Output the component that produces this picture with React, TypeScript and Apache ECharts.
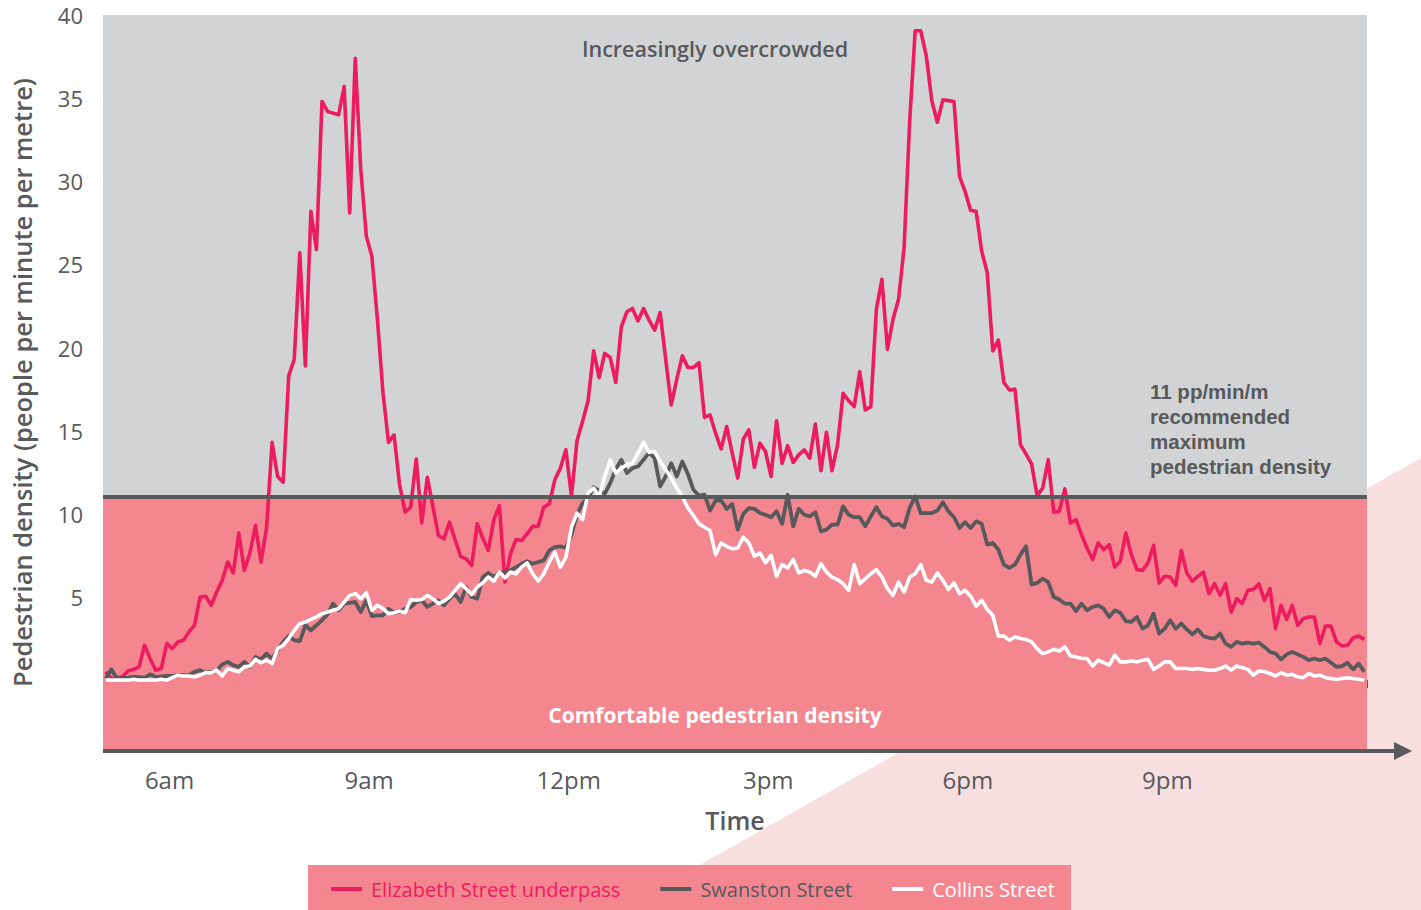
import React, { useEffect, useRef } from 'react';
import * as echarts from 'echarts';

// ---- data: 5-minute readings from 5:00 to 23:55 (one row per hour) ----
const elizabeth: number[] = [
  0.5, 0.1, 0.15, 0.2, 0.55, 0.65, 0.8, 2.1, 1.3, 0.6, 0.7, 2.2,
  1.9, 2.3, 2.4, 2.9, 3.3, 5.0, 5.05, 4.5, 5.3, 6.0, 7.1, 6.45,
  8.85, 6.6, 7.65, 9.3, 7.1, 9.15, 14.3, 12.25, 11.9, 18.3, 19.3, 25.7,
  18.9, 28.2, 25.9, 34.8, 34.2, 34.1, 34.0, 35.7, 28.1, 37.4, 30.7, 26.7,
  25.5, 21.7, 17.3, 14.3, 14.75, 11.75, 10.1, 10.4, 13.3, 9.45, 12.2, 10.45,
  8.7, 8.5, 9.5, 8.45, 7.45, 7.3, 6.9, 9.4, 8.55, 7.8, 9.65, 10.5,
  5.9, 7.6, 8.45, 8.4, 8.8, 9.25, 9.25, 10.4, 10.6, 12.05, 12.75, 13.85,
  11.05, 14.4, 15.55, 16.8, 19.8, 18.2, 19.65, 19.4, 17.9, 21.25, 22.15, 22.35,
  21.6, 22.35, 21.65, 21.05, 22.1, 19.3, 16.55, 18.1, 19.5, 18.8, 18.8, 19.1,
  15.8, 15.95, 14.85, 13.9, 15.25, 13.65, 12.15, 14.5, 15.05, 12.8, 14.25, 13.75,
  12.25, 15.6, 13.05, 14.1, 13.1, 13.55, 13.85, 13.35, 15.4, 12.6, 14.9, 12.6,
  14.15, 17.25, 16.8, 16.45, 18.55, 16.25, 16.45, 22.3, 24.1, 19.9, 21.7, 22.9,
  26.0, 33.55, 39.05, 39.05, 37.55, 34.85, 33.55, 34.9, 34.85, 34.8, 30.3, 29.4,
  28.25, 28.2, 25.8, 24.5, 19.8, 20.45, 17.9, 17.45, 17.5, 14.15, 13.6, 13.0,
  11.1, 11.55, 13.25, 10.1, 10.15, 11.5, 9.45, 9.65, 8.75, 7.95, 7.25, 8.25,
  7.85, 8.15, 6.8, 7.15, 8.85, 7.55, 6.65, 6.6, 7.05, 8.1, 5.85, 6.25,
  6.2, 5.7, 7.8, 6.45, 5.95, 6.25, 6.5, 5.2, 5.8, 5.1, 5.8, 4.1,
  4.9, 4.6, 5.4, 5.45, 5.8, 4.8, 5.5, 3.1, 4.5, 3.65, 4.5, 3.3,
  3.7, 3.8, 3.8, 2.2, 3.25, 3.25, 2.3, 2.05, 2.1, 2.55, 2.65, 2.45,
];

const swanston: number[] = [
  0.1, 0.65, 0.1, 0.12, 0.15, 0.2, 0.18, 0.15, 0.35, 0.2, 0.22, 0.25,
  0.25, 0.3, 0.3, 0.3, 0.5, 0.6, 0.45, 0.5, 0.55, 0.95, 1.1, 0.9,
  0.8, 1.1, 0.8, 1.4, 1.25, 1.6, 1.3, 1.8, 2.3, 2.65, 2.4, 2.35,
  3.3, 3.0, 3.3, 3.6, 3.95, 4.6, 4.2, 4.6, 4.65, 4.7, 4.1, 4.8,
  3.85, 3.9, 3.9, 4.3, 4.05, 4.1, 4.3, 4.4, 4.7, 4.8, 4.4, 4.6,
  4.8, 4.5, 4.9, 5.2, 4.7, 5.6, 5.0, 4.9, 6.2, 6.45, 6.2, 6.45,
  6.5, 6.6, 6.8, 7.0, 7.15, 7.0, 7.1, 7.2, 7.8, 8.0, 8.05, 7.95,
  8.75, 9.95, 10.65, 10.95, 11.6, 11.4, 11.2, 11.85, 12.7, 13.25, 12.45, 12.75,
  12.85, 13.25, 13.7, 13.35, 11.65, 12.25, 13.05, 12.25, 13.15, 12.4, 11.45, 11.1,
  11.15, 10.2, 10.8, 10.8, 10.3, 10.6, 9.05, 10.0, 10.35, 10.3, 10.05, 9.95,
  9.8, 10.15, 9.4, 11.15, 9.25, 10.3, 9.95, 9.85, 10.1, 8.95, 9.05, 9.35,
  9.35, 10.45, 9.95, 9.8, 9.8, 9.25, 9.85, 10.4, 9.85, 9.7, 9.3, 9.4,
  9.2, 10.35, 11.05, 10.05, 10.05, 10.05, 10.2, 10.7, 10.15, 9.8, 9.15, 9.5,
  9.15, 9.55, 9.4, 8.15, 8.25, 7.85, 6.95, 6.75, 6.95, 7.55, 8.05, 5.75,
  5.85, 6.1, 5.9, 5.0, 4.85, 4.6, 4.6, 4.15, 4.6, 4.2, 4.4, 4.5,
  4.3, 3.8, 4.2, 4.05, 3.55, 3.5, 3.8, 3.1, 3.3, 4.0, 2.8, 3.1,
  3.6, 3.1, 3.4, 3.05, 2.75, 3.05, 2.65, 2.55, 2.5, 2.8, 2.2, 2.0,
  2.3, 2.2, 2.25, 2.2, 2.25, 2.0, 1.7, 1.6, 1.25, 1.55, 1.7, 1.55,
  1.4, 1.2, 1.3, 1.2, 1.3, 1.05, 0.8, 0.85, 1.05, 0.65, 1.0, 0.5,
];

const collins: number[] = [
  0, 0, 0, 0, 0, 0.05, 0, 0, 0, 0, 0.05, 0,
  0.15, 0.3, 0.25, 0.25, 0.2, 0.3, 0.45, 0.45, 0.6, 0.25, 0.7, 0.6,
  0.5, 0.8, 0.85, 1.25, 1.05, 1.2, 1.0, 1.9, 2.1, 2.5, 3.0, 3.4,
  3.5, 3.65, 3.8, 4.0, 4.1, 4.2, 4.3, 4.7, 5.1, 5.2, 4.9, 5.25,
  4.2, 4.5, 4.3, 4.0, 4.05, 4.15, 4.05, 4.85, 4.8, 4.85, 5.1, 4.9,
  4.6, 4.75, 5.0, 5.4, 5.8, 5.5, 5.15, 5.6, 5.85, 6.2, 5.95, 6.5,
  6.15, 6.5, 6.4, 6.8, 7.05, 6.4, 5.95, 6.4, 7.1, 7.7, 6.8, 7.4,
  9.2, 10.05, 9.65, 11.25, 11.55, 11.05, 12.25, 13.25, 12.45, 12.75, 12.95, 13.05,
  13.65, 14.3, 13.7, 13.75, 13.15, 12.65, 12.15, 11.55, 11.05, 10.35, 9.9, 9.4,
  9.2, 9.0, 7.55, 8.25, 8.05, 7.9, 7.95, 8.6, 8.25, 7.45, 7.65, 7.05,
  7.5, 6.25, 6.95, 6.75, 7.25, 6.45, 6.6, 6.5, 6.25, 7.0, 6.5, 6.2,
  6.05, 5.8, 5.4, 6.95, 5.8, 6.1, 6.4, 6.65, 6.2, 5.5, 5.1, 5.9,
  5.3, 6.2, 6.4, 6.95, 6.0, 5.9, 6.45, 6.0, 5.45, 5.85, 5.2, 5.4,
  5.05, 4.45, 4.8, 4.25, 3.9, 2.65, 2.65, 2.4, 2.6, 2.5, 2.45, 2.3,
  1.9, 1.6, 1.7, 1.85, 1.75, 2.0, 1.45, 1.4, 1.3, 1.3, 0.85, 1.2,
  1.05, 0.9, 1.5, 1.1, 1.1, 1.15, 1.1, 1.2, 1.25, 0.65, 0.85, 1.1,
  1.1, 0.7, 0.7, 0.7, 0.65, 0.7, 0.65, 0.6, 0.6, 0.7, 0.85, 0.6,
  0.85, 0.75, 0.65, 0.3, 0.55, 0.5, 0.4, 0.25, 0.45, 0.3, 0.35, 0.2,
  0.15, 0.4, 0.25, 0.3, 0.15, 0.1, 0.05, 0.1, 0.15, 0.1, 0.05, 0.0,
];

const seriesNames = ['Elizabeth Street underpass', 'Swanston Street', 'Collins Street'];
const xTickValues = [6, 9, 12, 15, 18, 21];
const xTickLabels = ['6am', '9am', '12pm', '3pm', '6pm', '9pm'];
const yTickValues = [5, 10, 15, 20, 25, 30, 35, 40];
const thresholdNote = ['11 pp/min/m', 'recommended', 'maximum', 'pedestrian density'];
const threshold = 11;
const startHour = 5;
const endHour = 24;
const yMin = -4.2;
const yMax = 40;

// ---- styling ----
const RED = '#ec1c5f';
const DARK = '#58595b';
const WHITE = '#ffffff';
const PINK = '#f4868f';
const GREYBG = '#d1d3d4';
const PALE = '#f7dfe0';
const FONT = '"Open Sans", "Noto Sans", sans-serif';
const NOTE_FONT = '"Liberation Sans", Arial, sans-serif';

const toPairs = (vals: number[]) => vals.map((v, i) => [startHour + (i + 0.5) / 12, v]);

export default function App() {
  const ref = useRef<HTMLDivElement>(null);

  useEffect(() => {
    const chart = echarts.init(ref.current!, null, { renderer: 'svg' });
    const lineSeries = (name: string, vals: number[], color: string, width: number) => ({
      type: 'line',
      name,
      data: toPairs(vals),
      showSymbol: false,
      symbol: 'none',
      z: 3,
      lineStyle: { color, width, join: 'round' },
      itemStyle: { color },
      emphasis: { disabled: true },
    });

    const noteTexts = thresholdNote.map((line, k) => ({
      type: 'text',
      z: 50,
      silent: true,
      x: 1150,
      y: 391 + k * 25,
      style: {
        text: line,
        fill: DARK,
        font: `700 20.5px ${NOTE_FONT}`,
        align: 'left',
        verticalAlign: 'middle',
      },
    }));

    const option: any = {
      animation: false,
      backgroundColor: 'transparent',
      grid: { left: 103, right: 54, top: 15, bottom: 160, containLabel: false },
      xAxis: {
        type: 'value',
        min: startHour,
        max: endHour,
        interval: 1,
        axisLine: { show: false },
        axisTick: { show: true, length: 8, lineStyle: { color: DARK, width: 1 } },
        axisLabel: {
          customValues: xTickValues,
          formatter: (v: number) => xTickLabels[xTickValues.indexOf(v)] ?? '',
          color: DARK,
          fontSize: 24,
          fontFamily: FONT,
          margin: 17,
        },
        splitLine: { show: false },
        name: 'Time',
        nameLocation: 'middle',
        nameGap: 57,
        nameTextStyle: { color: DARK, fontSize: 25, fontWeight: 600, fontFamily: FONT },
      },
      yAxis: {
        type: 'value',
        min: yMin,
        max: yMax,
        axisLine: { show: false },
        axisTick: { show: false },
        splitLine: { show: false },
        axisLabel: {
          customValues: yTickValues,
          color: DARK,
          fontSize: 22,
          fontFamily: FONT,
          margin: 20,
        },
        name: 'Pedestrian density (people per minute per metre)',
        nameLocation: 'middle',
        nameGap: 68,
        nameTextStyle: { color: DARK, fontSize: 25.5, fontWeight: 600, fontFamily: FONT },
      },
      legend: {
        left: 326,
        top: 874,
        icon: 'rect',
        itemWidth: 31,
        itemHeight: 4,
        itemGap: 40,
        selectedMode: false,
        textStyle: { fontSize: 20, fontFamily: FONT, padding: [0, 0, 0, 4] },
        data: [
          { name: seriesNames[0], textStyle: { color: RED } },
          { name: seriesNames[1], textStyle: { color: DARK } },
          { name: seriesNames[2], textStyle: { color: WHITE } },
        ],
      },
      graphic: [
        {
          type: 'polygon',
          z: 0,
          silent: true,
          shape: { points: [[1421, 458], [1421, 910], [620, 910]] },
          style: { fill: PALE },
        },
        {
          type: 'rect',
          z: 1,
          silent: true,
          shape: { x: 308, y: 865, width: 763, height: 45 },
          style: { fill: PINK },
        },
        {
          type: 'line',
          z: 50,
          silent: true,
          shape: { x1: 103, y1: 751, x2: 1398, y2: 751 },
          style: { stroke: DARK, lineWidth: 4 },
        },
        {
          type: 'polygon',
          z: 50,
          silent: true,
          shape: { points: [[1394, 742], [1412, 751], [1394, 760]] },
          style: { fill: DARK },
        },
        {
          type: 'text',
          z: 50,
          silent: true,
          x: 715,
          y: 48,
          style: {
            text: 'Increasingly overcrowded',
            fill: DARK,
            font: `600 21.5px ${FONT}`,
            align: 'center',
            verticalAlign: 'middle',
          },
        },
        {
          type: 'text',
          z: 50,
          silent: true,
          x: 715,
          y: 715,
          style: {
            text: 'Comfortable pedestrian density',
            fill: WHITE,
            font: `700 21px ${FONT}`,
            align: 'center',
            verticalAlign: 'middle',
          },
        },
        ...noteTexts,
      ],
      series: [
        {
          type: 'line',
          name: 'zones',
          data: [],
          z: 1,
          silent: true,
          markArea: {
            silent: true,
            data: [
              [{ yAxis: threshold, itemStyle: { color: GREYBG } }, { yAxis: yMax }],
              [{ yAxis: yMin, itemStyle: { color: PINK } }, { yAxis: threshold }],
            ],
          },
          markLine: {
            silent: true,
            symbol: 'none',
            label: { show: false },
            lineStyle: { color: DARK, width: 4, type: 'solid' },
            emphasis: { disabled: true },
            data: [{ yAxis: threshold }],
          },
        },
        lineSeries(seriesNames[0], elizabeth, RED, 3.6),
        lineSeries(seriesNames[1], swanston, DARK, 3.8),
        lineSeries(seriesNames[2], collins, WHITE, 3.6),
      ],
    };

    chart.setOption(option);
    return () => chart.dispose();
  }, []);

  return (
    <div
      ref={ref}
      style={{ position: 'absolute', left: 0, top: 0, width: 1421, height: 910, background: '#ffffff' }}
    />
  );
}
